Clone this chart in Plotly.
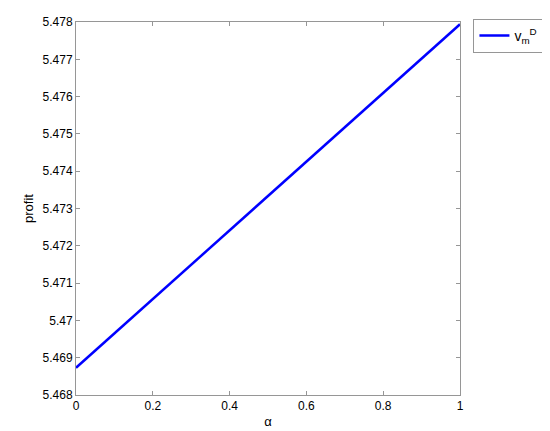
import plotly.graph_objects as go

# data
alpha = [0, 0.2, 0.4, 0.6, 0.8, 1]
profit = [5.46873, 5.47057, 5.47241, 5.47425, 5.47610, 5.47794]

x_ticks = [0, 0.2, 0.4, 0.6, 0.8, 1]
x_labels = ['0', '0.2', '0.4', '0.6', '0.8', '1']
y_ticks = [5.468, 5.469, 5.470, 5.471, 5.472, 5.473, 5.474, 5.475, 5.476, 5.477, 5.478]
y_labels = ['5.468', '5.469', '5.47', '5.471', '5.472', '5.473', '5.474', '5.475', '5.476', '5.477', '5.478']

fig = go.Figure()
fig.add_trace(go.Scatter(x=alpha, y=profit, mode='lines', name='v<sub>m</sub><sup>D</sup>',
                         line=dict(color='rgb(0,0,255)', width=2.5)))

axis_style = dict(showline=True, linecolor='rgb(150,150,150)', linewidth=1, mirror='allticks',
                  ticks='inside', ticklen=4, tickcolor='rgb(150,150,150)', showgrid=False,
                  zeroline=False, automargin=False,
                  tickfont=dict(family='Liberation Sans, Arial', size=12, color='black'))

fig.update_xaxes(range=[0, 1], tickvals=x_ticks, ticktext=x_labels,
                 title=dict(text='α', font=dict(family='Liberation Sans, Arial', size=13, color='black'), standoff=4),
                 **axis_style)
fig.update_yaxes(range=[5.468, 5.478], tickvals=y_ticks, ticktext=y_labels,
                 title=dict(text='profit', font=dict(family='Liberation Sans, Arial', size=13, color='black'), standoff=6),
                 **axis_style)

fig.update_layout(width=550, height=431, margin=dict(l=68, r=98, t=11, b=44),
                  paper_bgcolor='white', plot_bgcolor='white',
                  showlegend=True,
                  legend=dict(x=1.035, y=1.008, xanchor='left', yanchor='top',
                              bordercolor='rgb(150,150,150)', borderwidth=1,
                              font=dict(family='Liberation Sans, Arial', size=14, color='black')))

fig.write_html("out.html")
